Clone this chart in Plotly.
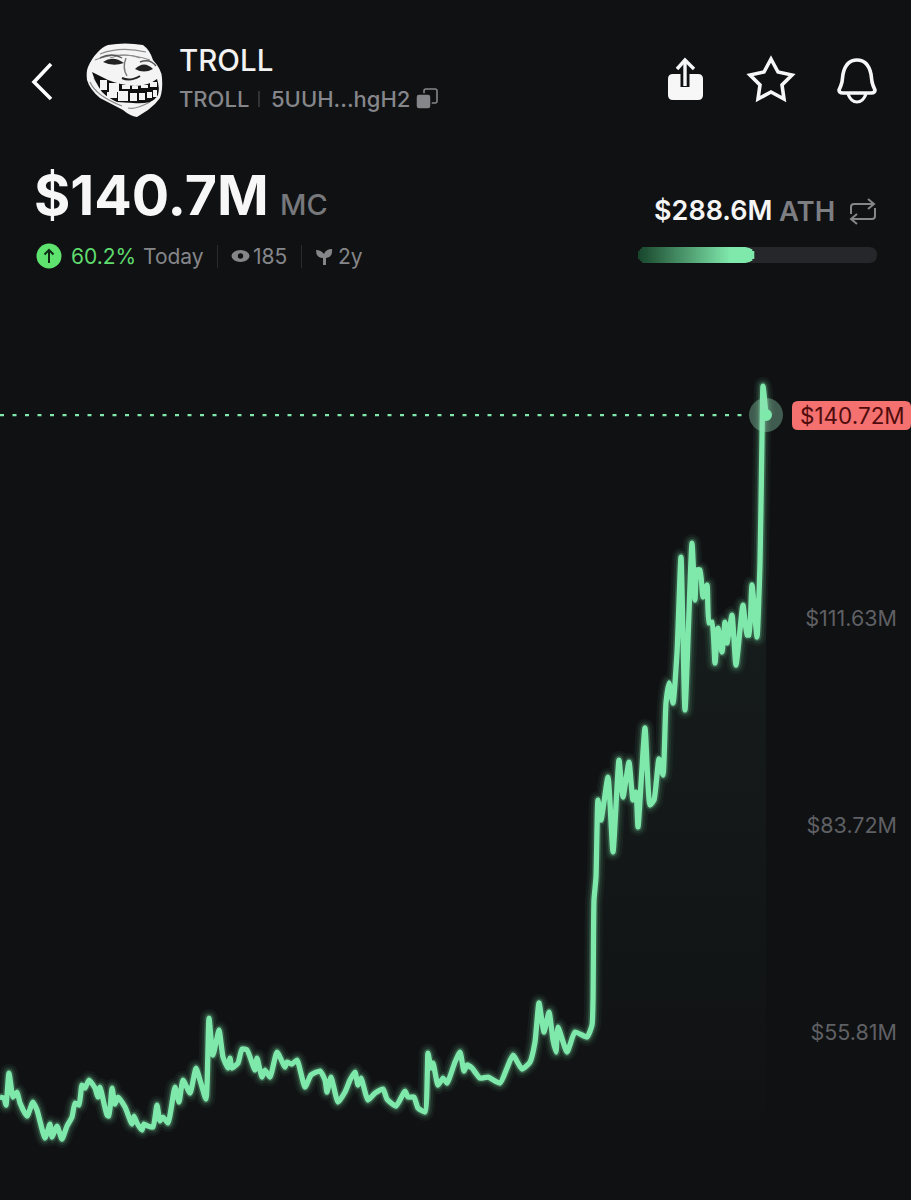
import re
import plotly.graph_objects as go

# ---- data ----
time_index = [0,4,6,9,13,17,20,27,33,37,45,50,52,57,62,67,72,75,79,82,85,89,95,98,100,107,109,112,115,118,125,132,134,137,142,144,148,153,157,160,163,168,175,179,183,190,196,200,206,209,213,219,223,228,230,232,238,242,247,255,257,262,265,270,277,285,287,292,297,305,311,320,325,327,331,338,345,350,355,358,361,368,375,383,387,396,405,408,414,418,425,428,431,433,438,443,447,455,460,464,467,472,480,488,500,507,513,522,530,535,539,544,549,553,556,558,567,575,587,592,593,594,596,598,601,608,613,619,623,629,633,636,638,645,650,654,659,663,666,669,673,677,681,685,692,695,697,700,703,707,709,712,715,718,722,725,727,732,736,743,747,749,752,757,760,762,763,766]
market_cap = [47.04,46.91,45.96,50.28,47.04,47.72,46.23,44.48,46.37,45.29,41.51,43.40,41.65,43.13,41.38,43.13,44.34,46.23,45.96,48.66,48.25,49.33,48.25,47.04,48.39,44.61,44.48,48.25,46.09,47.04,45.69,43.40,44.48,43.54,42.59,43.40,43.13,42.99,45.96,43.81,44.34,43.54,48.39,46.37,49.33,47.58,50.95,49.33,46.77,57.69,52.70,56.08,52.43,50.95,52.30,50.95,51.63,53.51,53.38,50.68,52.30,49.74,50.68,49.74,53.11,51.09,51.76,51.49,52.03,48.39,50.01,50.55,49.33,47.72,49.74,46.37,47.72,49.33,50.41,48.66,49.60,46.64,47.58,48.12,46.77,45.83,47.85,47.04,47.04,45.56,45.02,52.97,50.95,51.63,48.66,49.60,48.93,51.76,53.11,50.55,51.36,50.95,49.60,49.74,48.93,50.95,52.70,50.82,51.76,54.46,59.72,55.81,58.50,54.73,53.11,56.48,53.11,55.81,55.13,56.75,60.12,73.61,76.71,87.09,84.39,90.19,80.08,92.48,87.50,92.21,87.09,88.17,83.45,96.80,86.42,87.09,92.62,90.46,100.17,102.87,100.17,106.91,119.85,99.23,121.74,114.06,118.10,118.10,114.46,116.08,110.96,111.09,105.56,110.28,107.05,111.09,108.26,112.03,105.29,113.38,109.34,109.34,116.08,109.07,119.05,136.03,142.91,139.00]
axis_values = [111.63, 83.72, 55.81]
axis_labels = ["$111.63M", "$83.72M", "$55.81M"]
current_label = "$140.72M"

W, H = 911, 1200
BG = "#101113"
GREEN = "#7fe8ab"
GREY = "#85868a"
Y_RANGE = [33.16, 194.96]

def to_paper(path):
    nums = iter(range(10**6))
    def rep(m):
        i = next(nums)
        v = float(m.group())
        return f"{v/W:.5f}" if i % 2 == 0 else f"{1-v/H:.5f}"
    return re.sub(r"-?\d+\.?\d*", rep, path)

shapes = []
def path(d, fill=None, color=None, width=0, layer="above"):
    shapes.append(dict(type="path", xref="paper", yref="paper", path=to_paper(d), layer=layer,
                       fillcolor=fill or "rgba(0,0,0,0)",
                       line=dict(color=color or "rgba(0,0,0,0)", width=width)))
def rect(x0, y0, x1, y1, fill):
    shapes.append(dict(type="rect", xref="paper", yref="paper", x0=x0/W, x1=x1/W, y0=1-y0/H, y1=1-y1/H,
                       fillcolor=fill, line=dict(width=0), layer="above"))
def circle(cx, cy, rx, ry=None, fill="#fff"):
    ry = ry or rx
    shapes.append(dict(type="circle", xref="paper", yref="paper", x0=(cx-rx)/W, x1=(cx+rx)/W,
                       y0=1-(cy-ry)/H, y1=1-(cy+ry)/H, fillcolor=fill, line=dict(width=0), layer="above"))
def rrect(x0, y0, x1, y1, r):
    return (f"M {x0+r} {y0} L {x1-r} {y0} Q {x1} {y0} {x1} {y0+r} L {x1} {y1-r} Q {x1} {y1} {x1-r} {y1} "
            f"L {x0+r} {y1} Q {x0} {y1} {x0} {y1-r} L {x0} {y0+r} Q {x0} {y0} {x0+r} {y0} Z")

ann = []
def text(x, y, s, size, color, weight=400, anchor="left", family="Inter"):
    ann.append(dict(x=x/W, y=1-y/H, xref="paper", yref="paper", text=s, showarrow=False, xanchor=anchor,
                    yanchor="middle", xshift=-3 if anchor == "left" else 0,
                    font=dict(size=size, color=color, family=family, weight=weight)))

fig = go.Figure()
# fill under the line
fig.add_trace(go.Scatter(x=time_index, y=market_cap, mode="lines", line=dict(width=0, shape="spline", smoothing=0.5),
                         fill="tozeroy",
                         fillgradient=dict(type="vertical", start=40, stop=115,
                                           colorscale=[[0, "rgba(127,232,171,0)"], [1, "rgba(127,232,171,0.055)"]]),
                         hoverinfo="skip", showlegend=False))
# glow
for w, a in [(18, 0.05), (13, 0.09), (8.5, 0.22)]:
    fig.add_trace(go.Scatter(x=time_index, y=market_cap, mode="lines", showlegend=False, hoverinfo="skip",
                             line=dict(color=f"rgba(127,232,171,{a})", width=w, shape="spline", smoothing=0.5)))
fig.add_trace(go.Scatter(x=time_index, y=market_cap, mode="lines", showlegend=False,
                         line=dict(color=GREEN, width=5.3, shape="spline", smoothing=0.5)))
# current price line and marker
fig.add_trace(go.Scatter(x=[0, time_index[-1] - 16], y=[market_cap[-1]] * 2, mode="lines", showlegend=False,
                         line=dict(color=GREEN, width=2.2, dash="4px 8.5px")))
fig.add_trace(go.Scatter(x=[time_index[-1]], y=[market_cap[-1]], mode="markers", showlegend=False,
                         marker=dict(size=34, color="rgba(150,225,185,0.36)")))
fig.add_trace(go.Scatter(x=[time_index[-1]], y=[market_cap[-1]], mode="markers", showlegend=False,
                         marker=dict(size=12, color=GREEN)))

# back chevron
path("M 51 64 L 34 82 L 51 99", color="#ffffff", width=3.6)
# troll face
path("M 108 45 Q 125 42 143 45 Q 150 50 153 60 Q 162 70 162 78 Q 163 90 160 98 Q 155 105 148 110 L 137 117 Q 130 116 123 110 L 100 98 Q 90 90 87 80 Q 86 72 88 67 Q 92 58 97 53 Q 102 47 108 45 Z", fill="#f4f4f4")
for d in ["M 100 54 Q 120 46 146 52", "M 95 60 Q 120 50 150 60", "M 90 82 Q 96 96 122 106", "M 94 78 Q 100 90 126 102",
          "M 110 58 Q 125 52 140 58", "M 128 108 Q 135 110 150 102"]:
    path(d, color="#8a8a8a", width=1.2)
path("M 92 72 Q 100 76 108 80 Q 120 85 135 86 Q 148 86 157 79 Q 160 88 158 95 Q 155 100 150 102 Q 142 104 133 103 L 117 102 Q 108 98 102 92 Q 95 82 92 72 Z", fill="#111111")
for x0, y0, x1, y1 in [(100,80,107,90),(109,83,119,92),(122,85,130,89),(132,86,138,89),(141,85,148,88),(150,82,157,87),
                       (107,92,117,98),(118,91,128,101),(130,93,137,101),(139,93,145,100),(147,92,152,98),(153,90,157,97)]:
    rect(x0, y0, x1, y1, "#f4f4f4")
path("M 103 62 Q 113 55 124 63 Q 113 67 103 62 Z", fill="#222222")
path("M 135 69 Q 144 60 153 69 Q 144 74 135 69 Z", fill="#222222")
path("M 122 78 Q 130 82 140 76", color="#222222", width=2)
path("M 126 58 Q 122 68 127 76", color="#777777", width=1.4)
path("M 140 62 Q 150 58 156 66", color="#555555", width=1.4)
path("M 100 58 Q 112 52 122 58", color="#555555", width=1.4)

# title block
text(180, 60, "TROLL", 29.5, "#f2f2f2", 500)
text(180, 99, "TROLL", 22, GREY, 500)
shapes.append(dict(type="line", xref="paper", yref="paper", x0=259/W, x1=259/W, y0=1-91/H, y1=1-107/H,
                   line=dict(color="#4a4b4e", width=1.2), layer="above"))
text(272, 99, "5UUH...hgH2", 22, GREY, 500)
# copy icon
path(rrect(424, 89, 437, 103, 2), color=GREY, width=1.6)
path(rrect(416, 94, 431, 109, 3), fill=GREY, color=BG, width=1.5)

# share, star, bell
path(rrect(668, 74, 703, 100, 5), fill="#f7f7f7")
path("M 685 73 L 685 87", color=BG, width=9)
path("M 685 61 L 685 86", color="#f7f7f7", width=3.4)
path("M 677 69 L 685 60 L 694 69", color="#f7f7f7", width=3.4)
path("M 771 59 L 778 72 L 792 75 L 782 85 L 784 99 L 771 92 L 758 99 L 760 85 L 750 75 L 764 72 Z", color="#f7f7f7", width=3.6)
path("M 839 90 Q 841 86 842 82 L 843 74 Q 846 60 857 60 Q 868 60 871 74 L 872 82 Q 873 86 875 90 Q 875 93 871 93 L 843 93 Q 839 93 839 90 Z", color="#f7f7f7", width=3.6)
path("M 848 94 Q 851 102 857 102 Q 863 102 866 94", color="#f7f7f7", width=3.2)

# headline
text(35, 195, "$140.7M", 55.5, "#f7f7f7", 700)
text(281, 204, "MC", 29, "#77787c", 500)
circle(49, 256, 12.5, fill="#5fe36f")
path("M 49 263 L 49 250 M 44.5 254.5 L 49 250 L 53.5 254.5", color="#0f2a14", width=2)
text(72, 256, "60.2%", 21, "#5fdc6e", 400)
text(144, 256, "Today", 21, GREY, 400)
rect(217, 245, 218, 268, "#2a2b2e")
circle(240.5, 256, 9, 6, GREY)
circle(240.5, 256, 2.7, fill=BG)
text(254, 256, "185", 21, GREY, 400)
rect(301, 245, 302, 268, "#2a2b2e")
path("M 323 265 L 323 258 Q 316 258 316 250 Q 321 250 324 254 Q 326 249 332 249 Q 333 257 326 258 L 326 265 Z", fill=GREY)
text(339, 256, "2y", 21, GREY, 400)

# ATH block
text(655, 211, "$288.6M", 27, "#f5f5f5", 600)
text(780, 211, "ATH", 27.5, "#7d7e82", 600)
path("M 851 214 L 851 207 Q 851 204 854 204 L 873 204 M 868 199 L 874 204 L 868 209", color=GREY, width=2)
path("M 875 208 L 875 216 Q 875 219 872 219 L 852 219 M 857 214 L 851 219 L 857 224", color=GREY, width=2)

# ATH progress bar
path(rrect(638, 247, 877, 263, 8), fill="#26272a")
n = 58
c0, c1 = (24, 70, 44), (127, 232, 171)
end_inset = {n - 1: 4, n - 2: 2, n - 3: 1, n - 4: 0.5}
for i in range(n):
    t = i / (n - 1)
    x0 = 638 + i * 2
    inset = max(0, 4 - i * 2) if i < 3 else end_inset.get(i, 0)
    col = tuple(round(a + (b - a) * min(1, t * 1.25)) for a, b in zip(c0, c1))
    rect(x0, 247 + inset, x0 + 2.3, 263 - inset, f"rgb{col}")

# current value pill
path(rrect(792, 401, 911, 430, 6), fill="#f4716f")
text(852, 415.5, current_label, 22.5, "#500c0d", 400, "center")

fig.update_layout(
    width=W, height=H, margin=dict(l=0, r=0, t=0, b=0), paper_bgcolor=BG, plot_bgcolor=BG,
    showlegend=False, shapes=shapes, annotations=ann, hovermode=False,
    xaxis=dict(range=[0, W], visible=False, fixedrange=True),
    yaxis=dict(range=Y_RANGE, side="right", ticklabelposition="inside", tickvals=axis_values, ticktext=axis_labels,
               showgrid=False, zeroline=False, showline=False, ticks="", ticklabelstandoff=11,
               tickfont=dict(size=21.5, color="#5f6064", family="Inter"), fixedrange=True),
)
fig.write_html("out.html", config=dict(displayModeBar=False),
               post_script=f"document.body.style.margin='0';document.body.style.background='{BG}';document.documentElement.style.overflow='hidden';")
